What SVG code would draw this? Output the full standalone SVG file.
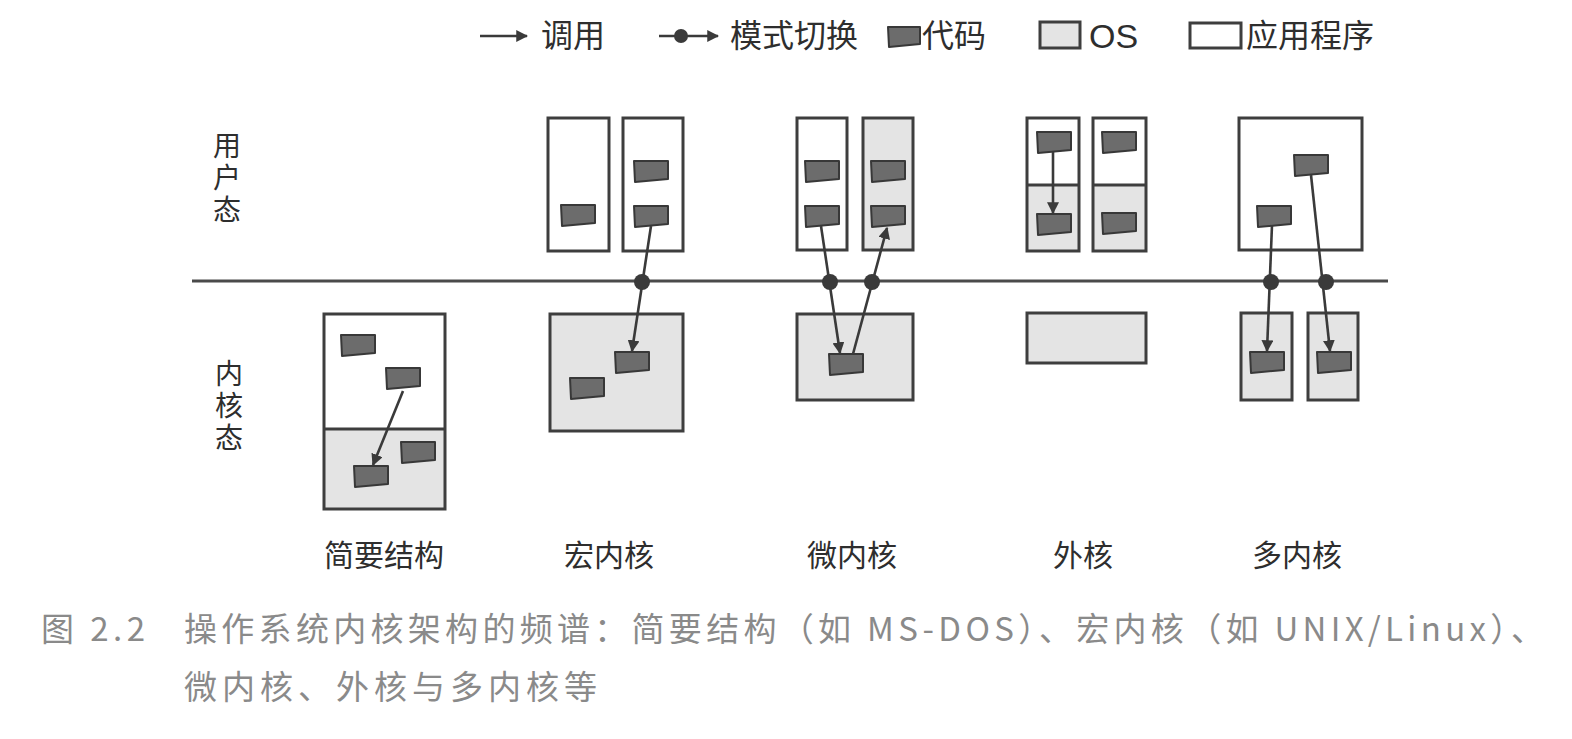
<svg xmlns="http://www.w3.org/2000/svg" xmlns:xlink="http://www.w3.org/1999/xlink" width="1572" height="739" viewBox="0 0 1572 739">
<style>
.box{fill:#ffffff;stroke:#3e3e3e;stroke-width:3}
.os{fill:#e4e4e4;stroke:#3e3e3e;stroke-width:3}
.osf{fill:#e4e4e4;stroke:none}
.div{stroke:#3e3e3e;stroke-width:3}
.code{fill:#6c6c6c;stroke:#383838;stroke-width:2;stroke-linejoin:round}
.arr{stroke:#3a3a3a;stroke-width:2.6;fill:none;marker-end:url(#ah)}
.dot{fill:#3a3a3a}
.t{font-family:"Noto Sans CJK SC","Noto Sans",sans-serif;fill:#2e2e2e}
.vt{writing-mode:vertical-rl;font-size:28px;letter-spacing:4px}
.cap{font-family:"Noto Sans CJK SC","Noto Sans",sans-serif;fill:#8a8a8a;font-size:33px}
</style>
<defs>
<marker id="ah" viewBox="0 0 10 10" refX="9" refY="5" markerWidth="4.6" markerHeight="4.6" orient="auto" markerUnits="strokeWidth">
<path d="M0,0 L10,5 L0,10 z" fill="#3a3a3a"/>
</marker>
<path id="code" class="code" d="M0,0 H34 V18 L1,21 Z"/>
</defs>
<rect width="1572" height="739" fill="#ffffff"/>

<g id="legend">
<line class="arr" x1="480" y1="36" x2="527" y2="36"/>
<text class="t" x="541" y="47" font-size="32">调用</text>
<line class="arr" x1="659" y1="36" x2="718" y2="36"/>
<circle class="dot" cx="681" cy="36" r="7"/>
<text class="t" x="730" y="47" font-size="32">模式切换</text>
<path class="code" d="M888,27 H920 V44 L889,47 Z"/>
<text class="t" x="922" y="47" font-size="32">代码</text>
<rect class="os" x="1040" y="22" width="40" height="26"/>
<text x="1089" y="48" font-size="34" font-family="Liberation Sans, Arial, sans-serif" fill="#2e2e2e">OS</text>
<rect class="box" x="1190" y="23" width="51" height="25"/>
<text class="t" x="1246" y="47" font-size="32">应用程序</text>
</g>

<g id="mode-labels">
<text class="t vt" x="227" y="131">用户态</text>
<text class="t vt" x="229" y="359">内核态</text>
</g>

<line id="boundary" x1="192" y1="281" x2="1388" y2="281" stroke="#4a4a4a" stroke-width="3"/>

<g id="simple">
<rect class="osf" x="324" y="429" width="121" height="80"/>
<rect x="324" y="314" width="121" height="195" fill="none" stroke="#3e3e3e" stroke-width="3"/>
<line class="div" x1="324" y1="429" x2="445" y2="429"/>
<use href="#code" x="341" y="335"/>
<use href="#code" x="386" y="368"/>
<use href="#code" x="401" y="442"/>
<use href="#code" x="354" y="466"/>
<text class="t" font-size="30" text-anchor="middle" x="384" y="566">简要结构</text>
</g>

<g id="monolithic">
<rect class="box" x="548" y="118" width="61" height="133"/>
<rect class="box" x="623" y="118" width="60" height="133"/>
<rect class="os" x="550" y="314" width="133" height="117"/>
<use href="#code" x="561" y="205"/>
<use href="#code" x="634" y="161"/>
<use href="#code" x="634" y="206"/>
<use href="#code" x="615" y="352"/>
<use href="#code" x="570" y="378"/>
<text class="t" font-size="30" text-anchor="middle" x="609" y="566">宏内核</text>
</g>

<g id="microkernel">
<rect class="box" x="797" y="118" width="50" height="132"/>
<rect class="os" x="863" y="118" width="50" height="132"/>
<rect class="os" x="797" y="314" width="116" height="86"/>
<use href="#code" x="805" y="161"/>
<use href="#code" x="805" y="206"/>
<use href="#code" x="871" y="161"/>
<use href="#code" x="871" y="206"/>
<use href="#code" x="829" y="354"/>
<text class="t" font-size="30" text-anchor="middle" x="852" y="566">微内核</text>
</g>

<g id="exokernel">
<rect class="osf" x="1027" y="185" width="52" height="66"/>
<rect x="1027" y="118" width="52" height="133" fill="none" stroke="#3e3e3e" stroke-width="3"/>
<line class="div" x1="1027" y1="185" x2="1079" y2="185"/>
<rect class="osf" x="1093" y="185" width="53" height="66"/>
<rect x="1093" y="118" width="53" height="133" fill="none" stroke="#3e3e3e" stroke-width="3"/>
<line class="div" x1="1093" y1="185" x2="1146" y2="185"/>
<rect class="os" x="1027" y="313" width="119" height="50"/>
<use href="#code" x="1037" y="132"/>
<use href="#code" x="1037" y="214"/>
<use href="#code" x="1102" y="132"/>
<use href="#code" x="1102" y="213"/>
<text class="t" font-size="30" text-anchor="middle" x="1083" y="566">外核</text>
</g>

<g id="multikernel">
<rect class="box" x="1239" y="118" width="123" height="132"/>
<rect class="os" x="1241" y="313" width="51" height="87"/>
<rect class="os" x="1308" y="313" width="50" height="87"/>
<use href="#code" x="1294" y="155"/>
<use href="#code" x="1257" y="206"/>
<use href="#code" x="1250" y="352"/>
<use href="#code" x="1317" y="352"/>
<text class="t" font-size="30" text-anchor="middle" x="1297" y="566">多内核</text>
</g>

<g id="connectors">
<line class="arr" x1="403" y1="391" x2="373" y2="465"/>
<line class="arr" x1="651" y1="226" x2="632" y2="351"/>
<circle class="dot" cx="642" cy="282" r="8"/>
<line class="arr" x1="821" y1="226" x2="840" y2="353"/>
<circle class="dot" cx="830" cy="282" r="8"/>
<line class="arr" x1="853" y1="354" x2="887" y2="228"/>
<circle class="dot" cx="872" cy="282" r="8"/>
<line class="arr" x1="1053" y1="152" x2="1053" y2="213"/>
<line class="arr" x1="1272" y1="225" x2="1267" y2="351"/>
<circle class="dot" cx="1271" cy="282" r="8"/>
<line class="arr" x1="1311" y1="175" x2="1330" y2="351"/>
<circle class="dot" cx="1326" cy="282" r="8"/>
</g>

<g id="caption">
<text class="cap" x="41" y="641" textLength="104" lengthAdjust="spacing">图 2.2</text>
<text class="cap" x="184" y="641" textLength="1360" lengthAdjust="spacing">操作系统内核架构的频谱：简要结构（如 MS-DOS）、宏内核（如 UNIX/Linux）、</text>
<text class="cap" x="184" y="699" letter-spacing="5">微内核、外核与多内核等</text>
</g>
</svg>
